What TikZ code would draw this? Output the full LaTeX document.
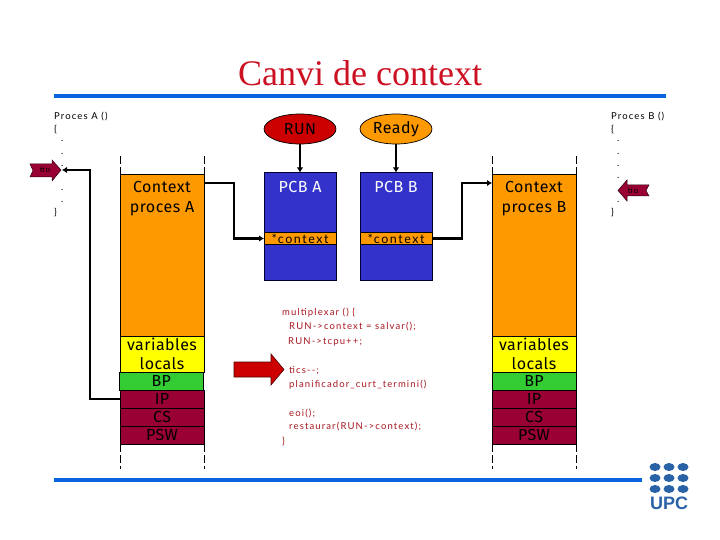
\documentclass[tikz,border=0pt]{standalone}
\usepackage{fontspec}
\setmainfont{Liberation Serif}
\newfontfamily\lab[LetterSpace=3]{Fira Sans}
\newfontfamily\codef[LetterSpace=12]{Lato}
\newfontfamily\logof{Liberation Sans}
\usetikzlibrary{arrows.meta,shapes.geometric}
\definecolor{cOrange}{HTML}{FF9900}
\definecolor{cYellow}{HTML}{FFFF00}
\definecolor{cGreen}{HTML}{33CC33}
\definecolor{cWine}{HTML}{990033}
\definecolor{cBlue}{HTML}{3333CC}
\definecolor{cRed}{HTML}{CC0000}
\definecolor{cRule}{HTML}{0A64E0}
\definecolor{cLogo}{HTML}{2A62A8}
\definecolor{cCode}{HTML}{A81820}
\definecolor{cTitle}{HTML}{CC1122}
\tikzset{
  x=1pt,y=-1pt,
  cell/.style={draw=black,line width=0.7pt,minimum width=84pt,inner sep=0pt,outer sep=0pt,anchor=north west,font=\lab\fontsize{16}{18}\selectfont},
  pcbbox/.style={draw=black!80!blue,line width=0.7pt,fill=cBlue,minimum width=72pt,inner sep=0pt,outer sep=0pt,anchor=north west},
  ctxbox/.style={draw=black,line width=0.7pt,fill=cOrange,minimum width=72pt,minimum height=12pt,inner sep=0pt,outer sep=0pt,font=\codef\fontsize{12.5}{12}\selectfont},
  oval/.style={draw=black,line width=0.7pt,ellipse,minimum width=72pt,minimum height=30pt,inner sep=0pt,outer sep=0pt,font=\lab\fontsize{16}{18}\selectfont},
  link/.style={line width=2.2pt,-{Latex[length=5pt,width=6.5pt]}},
  guide/.style={line width=0.7pt,dash pattern=on 8pt off 3pt},
  bluerule/.style={line width=4pt,cRule},
  big/.style={font=\lab\fontsize{16}{20}\selectfont,align=center,inner sep=0pt},
  small/.style={font=\codef\fontsize{9.5}{10}\selectfont,inner sep=0pt,anchor=west},
  code/.style={small,text=cCode},
  wine/.style={draw=black!70!cWine,line width=0.5pt,fill=cWine},
  dot/.style={fill=cLogo,draw=none,ellipse,minimum width=11pt,minimum height=8pt,inner sep=0pt}
}
\begin{document}
\begin{tikzpicture}
\useasboundingbox (0,0) rectangle (720,540);
\fill[white] (0,0) rectangle (720,540);
% title and rules
\node[font=\fontsize{36}{40}\selectfont,text=cTitle,inner sep=0pt,anchor=base] (title) at (360,85.5) {Canvi de context};
\draw[bluerule] (54,96) -- (666,96);
\draw[bluerule] (54,480) -- (642,480);
% stack A
\node[cell,fill=cOrange,minimum height=162pt] (ca) at (120,174) {};
\node[big] (calab) at (162,198.5) {Context\\proces A};
\node[cell,fill=cYellow,minimum height=36pt,align=center,font=\lab\fontsize{16}{19}\selectfont] (va) at (120,336) {variables\\locals};
\node[cell,fill=cWine,minimum height=18pt] (ipa) at (120,390) {IP};
\node[cell,fill=cWine,minimum height=18pt] (csa) at (120,408) {CS};
\node[cell,fill=cWine,minimum height=18pt] (pswa) at (120,426) {PSW};
\node[cell,fill=cGreen,minimum height=18pt,line width=0.9pt] (bpa) at (119.3,372) {BP};
% stack B
\node[cell,fill=cOrange,minimum height=162pt] (cb) at (492,174) {};
\node[big] (cblab) at (534,198.5) {Context\\proces B};
\node[cell,fill=cYellow,minimum height=36pt,align=center,font=\lab\fontsize{16}{19}\selectfont] (vb) at (492,336) {variables\\locals};
\node[cell,fill=cGreen,minimum height=18pt] (bpb) at (492,372) {BP};
\node[cell,fill=cWine,minimum height=18pt] (ipb) at (492,390) {IP};
\node[cell,fill=cWine,minimum height=18pt] (csb) at (492,408) {CS};
\node[cell,fill=cWine,minimum height=18pt] (pswb) at (492,426) {PSW};
% guides
\foreach \gx in {120,204,492,576}{
  \draw[guide] (\gx,156) -- (\gx,174);
  \draw[guide] (\gx,444) -- (\gx,469);
}
% ovals and PCBs
\node[oval,fill=cRed] (run) at (300,129) {RUN};
\node[oval,fill=cOrange] (ready) at (396,129) {Ready};
\node[pcbbox,minimum height=108pt] (pcba) at (264,172.5) {};
\node[pcbbox,minimum height=108pt] (pcbb) at (360,172.5) {};
\node[font=\lab\fontsize{16}{18}\selectfont,text=white,inner sep=0pt] (pa) at (300,187) {PCB A};
\node[font=\lab\fontsize{16}{18}\selectfont,text=white,inner sep=0pt] (pb) at (396,187) {PCB B};
\node[ctxbox] (ctxa) at (300,238.5) {*context};
\node[ctxbox] (ctxb) at (396,238.5) {*context};
% program A
\node[small] (pra) at (54,117) {Proces A ()};
\node[small] (bra) at (54,130) {\{};
\foreach \dy/\nm in {143/a1,156/a2,168/a3,192/a4,204/a5}{\node[small] (d\nm) at (61,\dy-2) {.};}
\node[small] (kea) at (54,213) {\}};
\coordinate (tipa) at (62,170);
\draw[wine] (30,164) -- (52,164) -- (52,160) -- (61,170) -- (52,181) -- (52,177) -- (30,177) -- (33,170.5) -- cycle;
\node[font=\codef\fontsize{8}{8}\selectfont,inner sep=0pt] (tioa) at (45,170) {tio};
% program B
\node[small] (prb) at (611,117) {Proces B ()};
\node[small] (brb) at (611,130) {\{};
\foreach \dy/\nm in {143/b1,156/b2,168/b3,180/b4,204/b5}{\node[small] (d\nm) at (617,\dy-2) {.};}
\node[small] (keb) at (611,213) {\}};
\draw[wine] (649,185) -- (627,185) -- (627,180) -- (618,190.5) -- (627,201) -- (627,196) -- (649,196) -- (646,190.5) -- cycle;
\node[font=\codef\fontsize{8}{8}\selectfont,inner sep=0pt] (tiob) at (633,190.5) {tio};
% connectors
\draw[link] (run) -- (pcba);
\draw[link] (ready) -- (pcbb);
\draw[link] ([yshift=-9pt]ca.north east) -- ++(30,0) |- (ctxa.west);
\draw[link] (ctxb.east) -- ++(30,0) |- ([yshift=-9pt]cb.north west);
\draw[link] (ipa.west) -- ++(-30,0) |- (tipa);
% big arrow
\draw[draw=black!60!cRed,line width=0.6pt,fill=cRed] (234,362) -- (271,362) -- (271,354) -- (284,369.5) -- (271,385) -- (271,377) -- (234,377) -- cycle;
% multiplexer code
\node[code] (m1) at (282,313) {multiplexar () \{};
\node[code] (m2) at (289,327) {RUN->context = salvar();};
\node[code] (m3) at (288,342) {RUN->tcpu++;};
\node[code] (m4) at (289,371) {tics--;};
\node[code] (m5) at (289,385) {planificador\_curt\_termini()};
\node[code] (m6) at (289,414) {eoi();};
\node[code] (m7) at (289,427) {restaurar(RUN->context);};
\node[code] (m8) at (282,442) {\}};
% logo
\foreach \lx/\na in {655/a,669/b,683/c}{
  \foreach \ly/\nb in {467/a,478/b,489/c}{
    \node[dot] (l\na\nb) at (\lx,\ly) {};
  }
}
\node[font=\logof\bfseries\fontsize{18}{18}\selectfont,text=cLogo,inner sep=0pt] (upc) at (669,503) {UPC};
\end{tikzpicture}
\end{document}
